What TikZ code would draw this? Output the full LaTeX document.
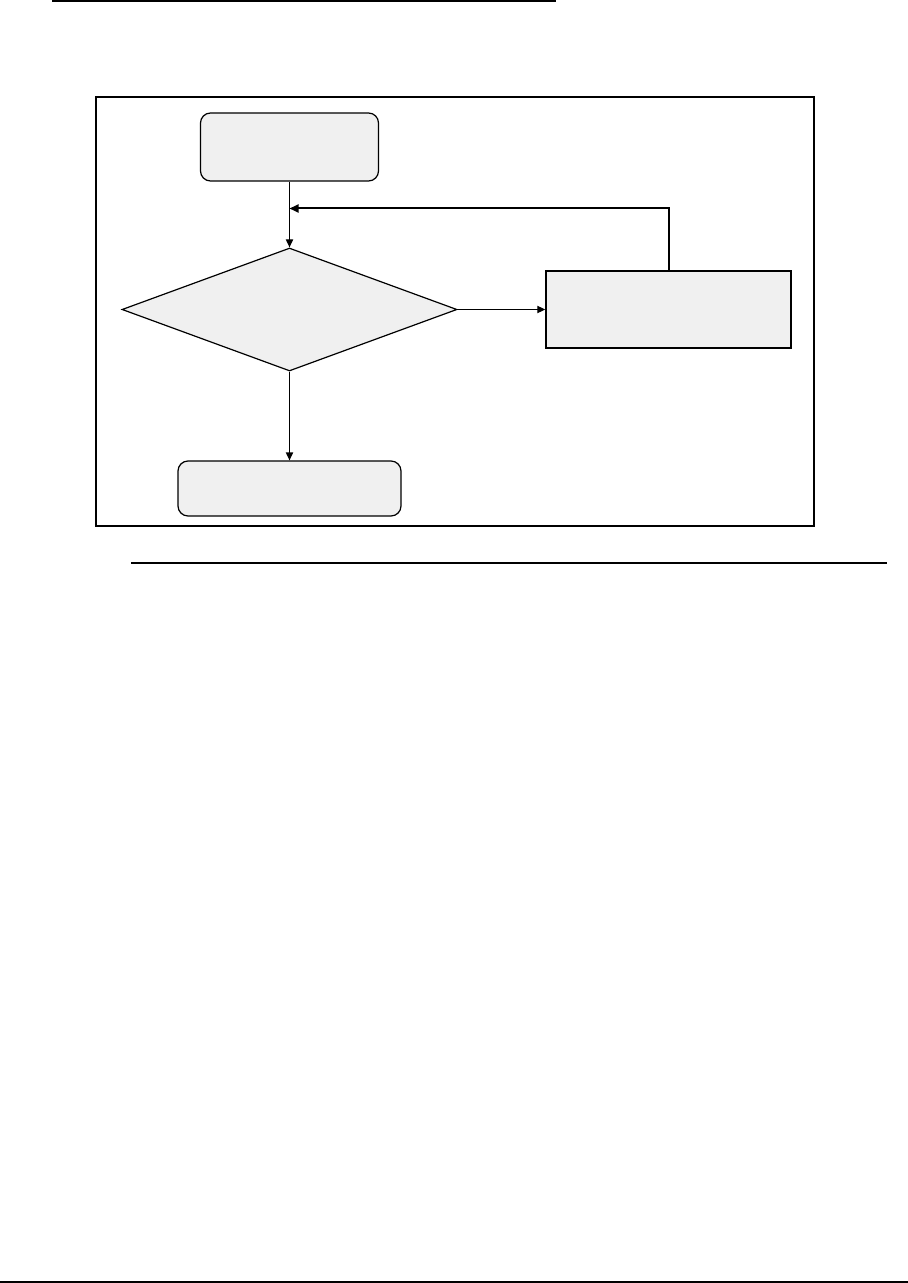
\documentclass[tikz,border=0pt]{standalone}
\usetikzlibrary{shapes.geometric,arrows.meta}
\definecolor{boxfill}{HTML}{F0F0F0}
\tikzset{
  px/.style={x=0.5pt,y=-0.5pt},
  rbox/.style={draw,fill=boxfill,line width=0.6pt,rounded corners=5pt,inner sep=0pt},
  sbox/.style={draw,fill=boxfill,line width=0.7pt,inner sep=0pt},
  dbox/.style={draw,fill=boxfill,line width=0.6pt,shape=diamond,inner sep=0pt},
  conn/.style={line width=0.6pt,-{Triangle[length=4pt,width=3.6pt]}},
  thickconn/.style={line width=1pt,-{Triangle[length=4.5pt,width=4pt]}},
  rule/.style={line width=1pt},
}
\begin{document}
\begin{tikzpicture}[px]
\useasboundingbox (0,0) rectangle (908,1283);
% page rules
\draw[rule] (52,1.5) -- (556,1.5);
\draw[line width=0.8pt] (131,563) -- (887,563);
\draw[rule] (0,1281.5) -- (908,1281.5);
% frame
\draw[line width=1pt] (96,97) rectangle (814,526);
% nodes
\node[rbox,minimum width=89pt,minimum height=34pt] (start) at (289.5,147) {};
\node[dbox,minimum width=167.5pt,minimum height=61.5pt] (dec) at (289.5,309.5) {};
\node[sbox,minimum width=122.5pt,minimum height=38.5pt] (proc) at (668.5,309.5) {};
\node[rbox,minimum width=111.5pt,minimum height=27.5pt] (stop) at (289.5,488.5) {};
\coordinate (join) at (289.5,208.5);
% connectors
\draw[conn] (start.south) -- (dec.north);
\draw[conn] (dec.east) -- (proc.west);
\draw[conn] (dec.south) -- (stop.north);
\draw[thickconn] (proc.north) |- (join);
\end{tikzpicture}
\end{document}
